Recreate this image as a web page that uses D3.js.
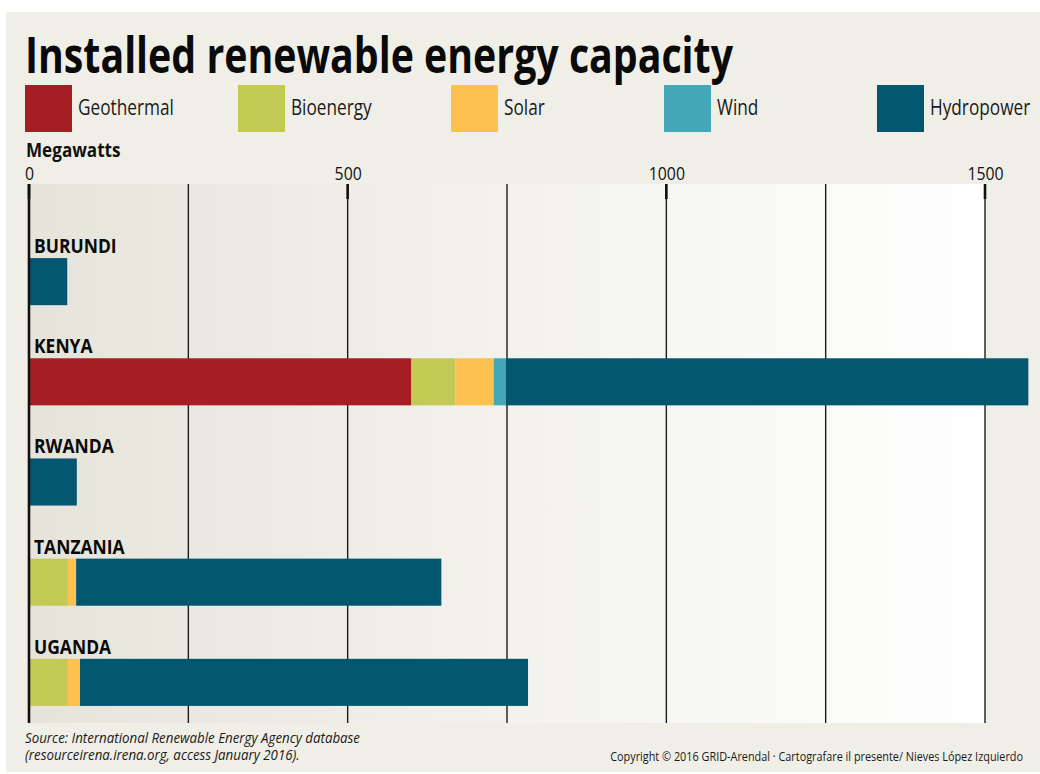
<!DOCTYPE html>
<html>
<head>
<meta charset="utf-8">
<script src="https://cdn.jsdelivr.net/npm/d3@7/dist/d3.min.js"></script>
<style>
  body { margin: 0; background: #fff; }
  svg { display: block; font-family: "Open Sans", "Noto Sans", sans-serif; }
</style>
</head>
<body>
<script>
// chart data (megawatts)
var countries = ["BURUNDI", "KENYA", "RWANDA", "TANZANIA", "UGANDA"];
var sources = ["Geothermal", "Bioenergy", "Solar", "Wind", "Hydropower"];
var geothermal = [0, 600, 0, 0, 0];
var bioenergy = [0, 69, 0, 61, 61];
var solar = [1, 60, 1, 13, 19];
var wind = [0, 19, 0, 0, 0];
var hydropower = [59, 820, 74, 573, 703];
var tickValues = [0, 500, 1000, 1500];
var gridValues = [250, 500, 750, 1000, 1250, 1500];

var colors = ["#a51e23", "#c2ca55", "#fdc150", "#45a8b8", "#02566f"];

// build rows for the stack
var rows = countries.map(function(c, i) {
    return {
        country: c,
        Geothermal: geothermal[i],
        Bioenergy: bioenergy[i],
        Solar: solar[i],
        Wind: wind[i],
        Hydropower: hydropower[i]
    };
});

var W = 1040, H = 774;
var plot = { left: 29, right: 985, top: 184, bottom: 723 };

var svg = d3.select("body").append("svg")
    .attr("width", W)
    .attr("height", H);

// squeeze text a bit, the original face is narrower than ours
function condense(sel, f) {
    sel.each(function() {
        var w = this.getComputedTextLength();
        d3.select(this).attr("textLength", w * f).attr("lengthAdjust", "spacingAndGlyphs");
    });
}

// card background
svg.append("rect")
    .attr("x", 6).attr("y", 12)
    .attr("width", W - 6).attr("height", 760)
    .attr("fill", "#f0efe7");

// plot background gradient
var grad = svg.append("defs").append("linearGradient")
    .attr("id", "bg").attr("x1", "0%").attr("x2", "100%");
grad.append("stop").attr("offset", "0%").attr("stop-color", "#e6e4da");
grad.append("stop").attr("offset", "100%").attr("stop-color", "#ffffff");

svg.append("rect")
    .attr("x", plot.left).attr("y", plot.top)
    .attr("width", plot.right - plot.left)
    .attr("height", plot.bottom - plot.top)
    .attr("fill", "url(#bg)");

// title
svg.append("text")
    .attr("x", 25).attr("y", 73)
    .attr("font-size", 50)
    .attr("font-weight", "bold")
    .attr("fill", "#0a0a0a")
    .attr("textLength", 708)
    .attr("lengthAdjust", "spacingAndGlyphs")
    .text("Installed renewable energy capacity");

// legend
var legend = svg.selectAll(".legend")
    .data(sources)
    .enter().append("g")
    .attr("class", "legend")
    .attr("transform", function(d, i) { return "translate(" + (25 + i * 213) + ",85)"; });

legend.append("rect")
    .attr("width", 47).attr("height", 47)
    .attr("fill", function(d, i) { return colors[i]; });

legend.append("text")
    .attr("x", 53).attr("y", 30)
    .attr("font-size", 21)
    .attr("fill", "#1a1a1a")
    .text(function(d) { return d; })
    .call(condense, 0.82);

// x scale
var x = d3.scaleLinear()
    .domain([0, 1500])
    .range([plot.left, plot.right]);

// y scale
var y = d3.scaleBand()
    .domain(countries)
    .range([205, 759])
    .padding(0.53);

// unit label
svg.append("text")
    .attr("x", 26).attr("y", 157)
    .attr("font-size", 19)
    .attr("font-weight", "bold")
    .attr("fill", "#111")
    .text("Megawatts")
    .call(condense, 0.9);

// tick labels on top
var axis = svg.append("g")
    .attr("transform", "translate(0,180)")
    .call(d3.axisTop(x).tickValues(tickValues).tickSize(0).tickPadding(0).tickFormat(d3.format("d")));
axis.select(".domain").remove();
axis.selectAll("text")
    .attr("font-family", "'Open Sans', sans-serif")
    .attr("font-size", 18)
    .attr("fill", "#111")
    .call(condense, 0.88);

// gridlines
svg.selectAll(".grid")
    .data(gridValues)
    .enter().append("line")
    .attr("class", "grid")
    .attr("x1", function(d) { return x(d); })
    .attr("x2", function(d) { return x(d); })
    .attr("y1", plot.top)
    .attr("y2", plot.bottom)
    .attr("stroke", "#1c1c1c")
    .attr("stroke-width", 1.4);

// heavier tick marks at the top
svg.selectAll(".tick-mark")
    .data(tickValues)
    .enter().append("line")
    .attr("class", "tick-mark")
    .attr("x1", function(d) { return x(d); })
    .attr("x2", function(d) { return x(d); })
    .attr("y1", plot.top)
    .attr("y2", plot.top + 15)
    .attr("stroke", "#111")
    .attr("stroke-width", 2.6);

// stacked bars
var stack = d3.stack().keys(sources);
var series = stack(rows);

svg.selectAll(".series")
    .data(series)
    .enter().append("g")
    .attr("class", "series")
    .attr("fill", function(d, i) { return colors[i]; })
    .selectAll("rect")
    .data(function(d) { return d; })
    .enter().append("rect")
    .attr("x", function(d) { return x(d[0]); })
    .attr("width", function(d) { return x(d[1]) - x(d[0]); })
    .attr("y", function(d) { return y(d.data.country); })
    .attr("height", y.bandwidth());

// zero axis line
svg.append("line")
    .attr("x1", x(0)).attr("x2", x(0))
    .attr("y1", plot.top).attr("y2", plot.bottom)
    .attr("stroke", "#111")
    .attr("stroke-width", 2.6);

// country labels
svg.selectAll(".country")
    .data(countries)
    .enter().append("text")
    .attr("class", "country")
    .attr("x", 34)
    .attr("y", function(d) { return y(d) - 5; })
    .attr("font-size", 19)
    .attr("font-weight", "bold")
    .attr("fill", "#0a0a0a")
    .text(function(d) { return d; })
    .call(condense, 0.92);

// footer
var src = svg.append("text")
    .attr("x", 25)
    .attr("font-size", 14)
    .attr("font-style", "italic")
    .attr("fill", "#1a1a1a");
src.append("tspan").attr("x", 25).attr("y", 743)
    .text("Source: International Renewable Energy Agency database");
src.append("tspan").attr("x", 25).attr("y", 760)
    .text("(resourceirena.irena.org, access January 2016).");
src.selectAll("tspan").call(condense, 0.95);

svg.append("text")
    .attr("x", 1023).attr("y", 761)
    .attr("text-anchor", "end")
    .attr("font-size", 13)
    .attr("fill", "#1a1a1a")
    .text("Copyright © 2016 GRID-Arendal · Cartografare il presente/ Nieves López Izquierdo")
    .call(condense, 0.835);
</script>
</body>
</html>
